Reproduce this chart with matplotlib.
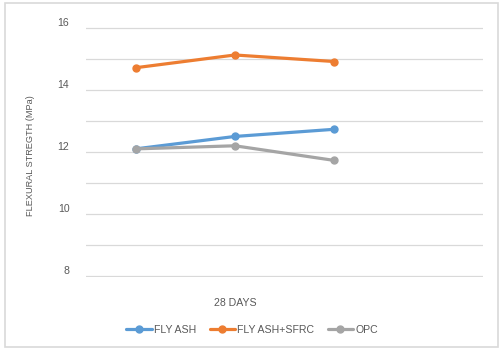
import matplotlib
matplotlib.use("Agg")
import matplotlib.pyplot as plt
from matplotlib.ticker import MultipleLocator
from matplotlib.patches import Rectangle

plt.rcParams["font.family"] = ["Liberation Sans", "DejaVu Sans"]

# === Data ===================================================================
categories = ["", "28 DAYS", "", ""]
fly_ash = [12.10, 12.50, 12.73]
fly_ash_sfrc = [14.71, 15.12, 14.91]
opc = [12.10, 12.20, 11.73]

series = [
    ("FLY ASH", fly_ash, "#5B9BD5"),
    ("FLY ASH+SFRC", fly_ash_sfrc, "#ED7D31"),
    ("OPC", opc, "#A5A5A5"),
]

TXT = "#595959"
GRID = "#D9D9D9"
FS = 7.6

# === Figure =================================================================
fig = plt.figure(figsize=(5.04, 3.53), dpi=100)
ax = fig.add_axes([86 / 504, 1 - 277 / 353, 397 / 504, 250 / 353])

for name, vals, col in series:
    ax.plot(range(len(vals)), vals, color=col, lw=2.3, marker="o",
            markersize=5, label=name, solid_capstyle="round")

ax.set_xlim(-0.5, len(categories) - 0.5)
ax.set_ylim(7.98, 16.02)
ax.set_xticks(range(len(categories)))
ax.set_xticklabels(categories, fontsize=FS, color=TXT)
ax.yaxis.set_major_locator(MultipleLocator(2))
ax.yaxis.set_minor_locator(MultipleLocator(1))
ax.tick_params(axis="y", which="both", length=0, labelsize=FS,
               labelcolor=TXT, pad=12)
ax.tick_params(axis="x", length=0, pad=15)
plt.setp(ax.get_yticklabels(), va="bottom")
ax.grid(True, which="both", axis="y", color=GRID, lw=0.9)
ax.set_axisbelow(True)
for s in ax.spines.values():
    s.set_visible(False)

ax.set_ylabel("FLEXURAL STREGTH (MPa)", fontsize=6.6, color=TXT)
ax.yaxis.set_label_coords(-0.128, 0.485)

fig.legend(loc="center", bbox_to_anchor=(252 / 504, 1 - 330 / 353), ncol=3,
           frameon=False, fontsize=FS, handlelength=2.4, columnspacing=1.3,
           handletextpad=0.2, labelcolor=TXT)

# chart border
fig.patches.append(Rectangle((5 / 504, 6 / 353), 493 / 504, 344 / 353,
                             transform=fig.transFigure, fill=False,
                             edgecolor=GRID, lw=1.2))

fig.savefig("out.png", dpi=100, facecolor="white")
